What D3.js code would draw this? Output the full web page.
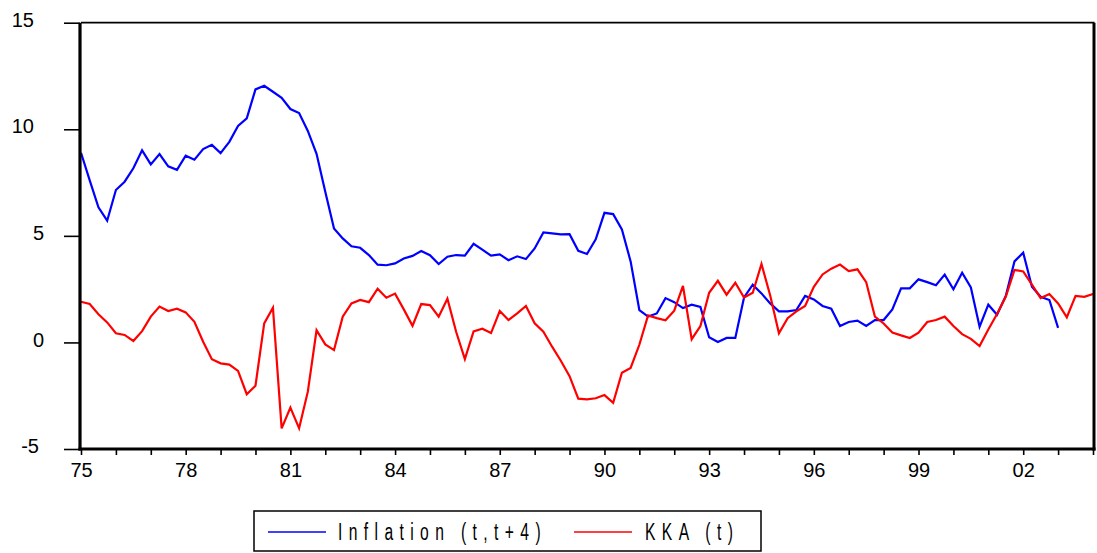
<!DOCTYPE html>
<html>
<head>
<meta charset="utf-8">
<script src="https://cdn.jsdelivr.net/npm/d3@7"></script>
<style>
  html, body { margin: 0; padding: 0; background: #fff; }
  svg { display: block; font-family: "Liberation Sans", Arial, sans-serif; }
</style>
</head>
<body>
<svg id="chart" width="1097" height="553"></svg>
<script>
// Quarterly observations, first quarter 1975Q1
const startYear = 1975;
const perYear = 4;

// Inflation over t..t+4 (1975Q1 - 2003Q1)
const inflation = [
  8.90, 7.60, 6.34, 5.71, 7.15, 7.54, 8.17, 9.01, 8.35, 8.84,
  8.26, 8.10, 8.76, 8.57, 9.07, 9.27, 8.88, 9.41, 10.16, 10.51,
  11.87, 12.04, 11.76, 11.48, 10.95, 10.76, 9.92, 8.85, 7.07, 5.35,
  4.88, 4.51, 4.44, 4.10, 3.65, 3.62, 3.71, 3.94, 4.06, 4.29,
  4.09, 3.68, 4.02, 4.10, 4.07, 4.63, 4.35, 4.07, 4.13, 3.86,
  4.04, 3.91, 4.41, 5.16, 5.12, 5.07, 5.08, 4.30, 4.15, 4.84,
  6.08, 6.02, 5.30, 3.80, 1.52, 1.21, 1.36, 2.08, 1.89, 1.61,
  1.77, 1.67, 0.24, 0.02, 0.21, 0.21, 2.11, 2.71, 2.30, 1.83,
  1.46, 1.46, 1.52, 2.18, 2.02, 1.71, 1.58, 0.77, 0.96, 1.02,
  0.77, 1.05, 1.05, 1.55, 2.54, 2.54, 2.96, 2.83, 2.68, 3.18,
  2.49, 3.27, 2.58, 0.74, 1.77, 1.30, 2.18, 3.80, 4.21, 2.61,
  2.14, 1.99, 0.68
];

// KKA at t (1975Q1 - 2004Q1)
const kka = [
  1.91, 1.80, 1.32, 0.94, 0.43, 0.35, 0.07, 0.53, 1.21, 1.68,
  1.47, 1.58, 1.41, 0.97, 0.03, -0.79, -0.98, -1.04, -1.34, -2.43,
  -2.03, 0.89, 1.63, -4.03, -3.06, -4.03, -2.31, 0.57, -0.09, -0.36,
  1.21, 1.83, 1.99, 1.89, 2.52, 2.10, 2.29, 1.55, 0.78, 1.80,
  1.75, 1.21, 2.05, 0.50, -0.78, 0.52, 0.64, 0.44, 1.47, 1.05,
  1.36, 1.71, 0.90, 0.50, -0.20, -0.86, -1.58, -2.64, -2.67, -2.62,
  -2.47, -2.83, -1.42, -1.20, -0.11, 1.27, 1.14, 1.04, 1.49, 2.65,
  0.15, 0.77, 2.33, 2.89, 2.24, 2.80, 2.11, 2.33, 3.68, 2.20,
  0.43, 1.14, 1.46, 1.71, 2.61, 3.19, 3.46, 3.65, 3.35, 3.43,
  2.83, 1.21, 0.89, 0.46, 0.33, 0.21, 0.46, 0.96, 1.05, 1.21,
  0.77, 0.39, 0.17, -0.17, 0.61, 1.33, 2.14, 3.40, 3.33, 2.71,
  2.08, 2.27, 1.83, 1.18, 2.18, 2.14, 2.27
];

const yTicks = [-5, 0, 5, 10, 15];
const xLabelYears = [1975, 1978, 1981, 1984, 1987, 1990, 1993, 1996, 1999, 2002];
const xMinorYears = d3.range(1975, 2005);

const seriesNames = ["Inflation (t,t+4)", "KKA (t)"];
const seriesColors = ["#0000ff", "#ff0000"];

const svg = d3.select("#chart");
const plotLeft = 81, plotRight = 1093, plotTop = 22.7, plotBottom = 449;

const x = d3.scaleLinear().domain([1975, 2004]).range([plotLeft, plotRight]);
const y = d3.scaleLinear().domain([-5, 15]).range([plotBottom, plotTop]);

const toPoints = arr => arr.map((v, i) => ({ t: startYear + i / perYear, v }));

const line = d3.line().x(d => x(d.t)).y(d => y(d.v));

// series
[inflation, kka].forEach((arr, k) => {
  svg.append("path")
    .datum(toPoints(arr))
    .attr("fill", "none")
    .attr("stroke", seriesColors[k])
    .attr("stroke-width", 2.2)
    .attr("stroke-linejoin", "miter")
    .attr("d", line);
});

// frame
svg.append("line").attr("x1", plotLeft).attr("x2", plotRight + 1.5).attr("y1", plotTop).attr("y2", plotTop)
  .attr("stroke", "#000").attr("stroke-width", 1.8);
svg.append("line").attr("x1", plotRight + 1).attr("x2", plotRight + 1).attr("y1", plotTop).attr("y2", plotBottom + 1.5)
  .attr("stroke", "#000").attr("stroke-width", 3);

// y axis
const yAxis = d3.axisLeft(y).tickValues(yTicks).tickSize(16).tickSizeOuter(0).tickPadding(0)
  .tickFormat(d => String(d));
const gy = svg.append("g").attr("transform", `translate(${plotLeft - 1},0)`).call(yAxis);
gy.select(".domain").attr("stroke-width", 3.2).attr("d", `M0,${plotTop}V${plotBottom + 1.5}`);
gy.selectAll(".tick line").attr("stroke-width", 1.6);
gy.selectAll(".tick text")
  .attr("font-size", 20)
  .attr("fill", "#000")
  .attr("text-anchor", "end")
  .attr("dy", null)
  .attr("y", 3.6)
  .attr("x", d => {
    const digits = String(d).replace("-", "").length;
    return 44 - (plotLeft - 1) - 10 * (digits - 1) - (d < 0 ? 5 : 0);
  });

// x axis: yearly ticks, labels every third year
const xAxisMinor = d3.axisBottom(x).tickValues(xMinorYears).tickSize(6).tickSizeOuter(0).tickFormat("");
const gx = svg.append("g").attr("transform", `translate(0,${plotBottom})`).call(xAxisMinor);
gx.select(".domain").attr("stroke-width", 3.2).attr("d", `M${plotLeft - 2.6},0H${plotRight + 2.5}`);
gx.selectAll(".tick line").attr("stroke-width", 1.6);

const xAxisLabels = d3.axisBottom(x).tickValues(xLabelYears).tickSize(0).tickPadding(0)
  .tickFormat(d => String(d % 100).padStart(2, "0"));
const gxl = svg.append("g").attr("transform", `translate(0,${plotBottom})`).call(xAxisLabels);
gxl.select(".domain").remove();
gxl.selectAll(".tick text").attr("font-size", 20).attr("fill", "#000")
  .attr("dy", null).attr("y", 28);

// legend
const lg = svg.append("g");
lg.append("rect").attr("x", 254).attr("y", 511).attr("width", 507).attr("height", 40)
  .attr("fill", "#fff").attr("stroke", "#000").attr("stroke-width", 1.5);
const legendItems = [
  { name: seriesNames[0], color: seriesColors[0], x0: 268, x1: 326, tx: 338 },
  { name: seriesNames[1], color: seriesColors[1], x0: 574, x1: 632, tx: 645 }
];
legendItems.forEach(it => {
  lg.append("line").attr("x1", it.x0).attr("x2", it.x1).attr("y1", 532).attr("y2", 532)
    .attr("stroke", it.color).attr("stroke-width", 1.5);
  lg.append("text")
    .attr("transform", `translate(${it.tx},540) scale(0.68,1)`)
    .attr("font-size", 23)
    .attr("letter-spacing", 9.4)
    .attr("fill", "#000")
    .text(it.name);
});
</script>
</body>
</html>
